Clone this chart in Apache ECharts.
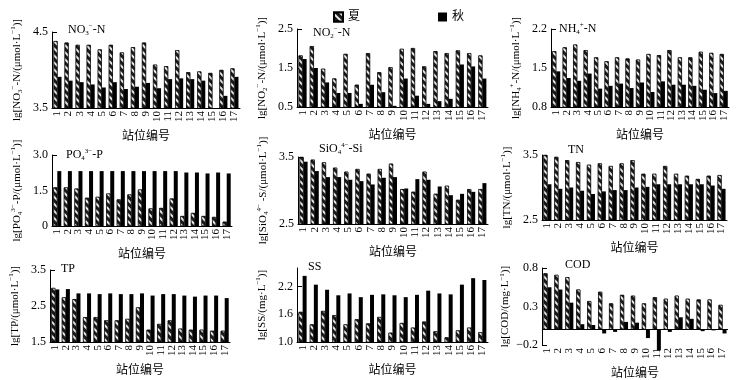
<!DOCTYPE html>
<html>
<head>
<meta charset="utf-8">
<script src="https://cdn.jsdelivr.net/npm/echarts@6/dist/echarts.min.js"></script>
<style>
  html, body { margin: 0; padding: 0; background: #fff; }
  #chart { width: 740px; height: 380px; }
</style>
</head>
<body>
<div id="chart"></div>
<script>
const stations = ['1', '2', '3', '4', '5', '6', '7', '8', '9', '10', '11', '12', '13', '14', '15', '16', '17']

const no3Summer = [4.38, 4.36, 4.33, 4.33, 4.27, 4.33, 4.23, 4.30, 4.36, 4.07, 4.05, 4.26, 3.97, 3.98, 3.96, 4.00, 4.02]
const no3Autumn = [3.91, 3.86, 3.84, 3.81, 3.77, 3.84, 3.75, 3.78, 3.83, 3.76, 3.88, 3.89, 3.88, 3.86, 3.50, 3.66, 3.91]
const no2Summer = [1.82, 2.06, 1.48, 1.23, 1.86, 1.07, 1.88, 1.39, 1.52, 1.99, 2.01, 1.54, 1.93, 1.88, 1.95, 1.88, 1.82]
const no2Autumn = [1.73, 1.50, 1.13, 0.86, 0.86, 0.58, 1.07, 0.88, 0.53, 1.23, 0.79, 0.58, 0.65, 0.71, 1.59, 1.54, 1.23]
const nh4Summer = [1.80, 1.87, 1.92, 1.82, 1.69, 1.62, 1.69, 1.67, 1.65, 1.75, 1.73, 1.82, 1.69, 1.69, 1.79, 1.77, 1.75]
const nh4Autumn = [1.44, 1.32, 1.27, 1.40, 1.13, 1.18, 1.22, 1.14, 1.24, 1.07, 1.26, 1.20, 1.20, 1.18, 1.11, 1.05, 1.09]
const po4Summer = [1.63, 1.63, 1.58, 1.19, 1.23, 1.37, 1.12, 1.33, 1.54, 0.74, 0.76, 1.16, 0.42, 0.55, 0.42, 0.38, 0.18]
const po4Autumn = [2.32, 2.32, 2.32, 2.32, 2.32, 2.32, 2.32, 2.32, 2.32, 2.32, 2.32, 2.32, 2.26, 2.26, 2.22, 2.26, 2.22]
const sioSummer = [3.50, 3.46, 3.42, 3.34, 3.28, 3.32, 3.25, 3.32, 3.40, 3.02, 2.98, 3.28, 2.95, 3.07, 2.86, 3.02, 3.02]
const sioAutumn = [3.43, 3.29, 3.20, 3.20, 3.16, 3.14, 3.09, 3.19, 3.20, 3.03, 3.17, 3.16, 3.06, 2.93, 2.95, 2.98, 3.11]
const tnSummer = [3.50, 3.47, 3.42, 3.39, 3.35, 3.37, 3.33, 3.37, 3.42, 3.21, 3.21, 3.33, 3.21, 3.18, 3.13, 3.18, 3.19]
const tnAutumn = [3.05, 2.98, 3.00, 2.95, 2.90, 2.94, 2.96, 2.96, 3.00, 3.01, 3.05, 3.05, 3.05, 3.05, 3.05, 3.03, 2.98]
const tpSummer = [3.00, 2.74, 2.69, 2.19, 2.19, 2.10, 2.10, 2.14, 2.46, 1.84, 2.00, 2.10, 1.87, 1.84, 1.84, 1.81, 1.81]
const tpAutumn = [2.96, 2.97, 2.85, 2.85, 2.83, 2.85, 2.83, 2.83, 2.85, 2.79, 2.83, 2.83, 2.79, 2.76, 2.79, 2.79, 2.72]
const ssSummer = [1.65, 1.38, 1.67, 1.58, 1.38, 1.49, 1.40, 1.54, 1.20, 1.41, 1.31, 1.44, 1.23, 1.10, 1.25, 1.31, 1.21]
const ssAutumn = [2.43, 2.24, 2.13, 2.01, 2.05, 1.97, 2.02, 2.03, 2.01, 1.97, 2.02, 2.11, 2.05, 2.03, 2.24, 2.38, 2.34]
const codSummer = [0.73, 0.71, 0.68, 0.52, 0.37, 0.49, 0.34, 0.45, 0.44, 0.34, 0.42, 0.40, 0.44, 0.40, 0.39, 0.39, 0.32]
const codAutumn = [0.55, 0.52, 0.35, 0.07, 0.06, -0.05, -0.03, 0.10, 0.09, -0.11, -0.27, -0.03, 0.16, 0.14, -0.02, -0.01, -0.05]

// y tick labels per panel
const no3Ticks = [3.5, 4.5]
const no2Ticks = [0.5, 1.5, 2.5]
const nh4Ticks = [0.8, 1.5, 2.2]
const po4Ticks = [0, 1.5, 3.0]
const sioTicks = [2.5, 3.5]
const tnTicks = [2.5, 3.5]
const tpTicks = [1.5, 2.5, 3.5]
const ssTicks = [1.0, 1.6, 2.2]
const codTicks = [-0.2, 0.3, 0.8]

const FONT = '"Liberation Serif", "Times New Roman", "Noto Sans CJK SC", serif'

const rich = {
  s: { fontSize: 7, lineHeight: 8, verticalAlign: 'top', fontFamily: FONT, color: '#000' },
  b: { fontSize: 7, lineHeight: 8, verticalAlign: 'bottom', fontFamily: FONT, color: '#000' },
}

const panels = [
  { grid: [52, 32, 188, 76], min: 3.5, max: 4.5, ticks: no3Ticks, summer: no3Summer, autumn: no3Autumn,
    name: 'lg[NO{b|3}{s|−}-N/(μmol·L{s|−1})]', title: 'NO{b|3}{s|−}-N', tpos: [68, 23] },
  { grid: [297, 29, 191, 78], min: 0.5, max: 2.5, ticks: no2Ticks, summer: no2Summer, autumn: no2Autumn,
    name: 'lg[NO{b|2}{s|−}-N/(μmol·L{s|−1})]', title: 'NO{b|2}{s|−}-N', tpos: [313, 26] },
  { grid: [551, 29, 178, 78], min: 0.8, max: 2.2, ticks: nh4Ticks, summer: nh4Summer, autumn: nh4Autumn,
    name: 'lg[NH{b|4}{s|+}-N/(μmol·L{s|−1})]', title: 'NH{b|4}{s|+}-N', tpos: [559, 22] },
  { grid: [52, 155, 180, 71], min: 0, max: 3, ticks: po4Ticks, summer: po4Summer, autumn: po4Autumn,
    name: 'lg[PO{b|4}{s|3−}-P/(μmol·L{s|−1})]', title: 'PO{b|4}{s|3−}-P', tpos: [66, 148] },
  { grid: [298, 157, 190, 67], min: 2.5, max: 3.5, ticks: sioTicks, summer: sioSummer, autumn: sioAutumn,
    name: 'lg[SiO{b|4}{s|4−} -S/(μmol·L{s|−1})]', title: 'SiO{b|4}{s|4−}-Si', tpos: [319, 142] },
  { grid: [542, 155, 185, 65], min: 2.5, max: 3.5, ticks: tnTicks, summer: tnSummer, autumn: tnAutumn,
    name: 'lg[TN/(μmol·L{s|−1})]', title: 'TN', tpos: [568, 143] },
  { grid: [50, 270, 180, 72], min: 1.5, max: 3.5, ticks: tpTicks, summer: tpSummer, autumn: tpAutumn,
    name: 'lg[TP/(μmol·L{s|−1})]', title: 'TP', tpos: [61, 262] },
  { grid: [297, 268, 191, 74], min: 1.0, max: 2.6, ticks: ssTicks, summer: ssSummer, autumn: ssAutumn,
    name: 'lg[SS/(mg·L{s|−1})]', title: 'SS', tpos: [308, 260] },
  { grid: [542, 268, 186, 77], min: -0.2, max: 0.8, ticks: codTicks, summer: codSummer, autumn: codAutumn,
    name: 'lg[COD/(mg·L{s|−1})]', title: 'COD', tpos: [565, 258], zeroLine: true },
]

const fmt = (v) => {
  if (v === 0) return '0'
  return v.toFixed(1).replace('-', '−')
}

const summerStyle = {
  color: '#1c1c1c',
  borderColor: '#000',
  borderWidth: 0.6,
  decal: {
    symbol: 'rect',
    symbolSize: 1,
    color: 'rgba(255,255,255,0.9)',
    dashArrayX: [1, 0],
    dashArrayY: [1.4, 2.6],
    rotation: Math.PI / 4,
  },
}

const grids = [], xAxes = [], yAxes = [], titles = [], series = []

panels.forEach((p, i) => {
  grids.push({
    left: p.grid[0], top: p.grid[1], width: p.grid[2], height: p.grid[3],
    containLabel: false, outerBoundsMode: 'none',
  })
  xAxes.push({
    type: 'category',
    gridIndex: i,
    data: stations,
    name: '站位编号',
    nameLocation: 'middle',
    nameGap: 23,
    nameTextStyle: { fontSize: 12, fontFamily: FONT, color: '#000' },
    axisLine: { show: !p.zeroLine, onZero: false, lineStyle: { color: '#000', width: 1 } },
    axisTick: { show: false },
    axisLabel: { rotate: 90, interval: 0, margin: 3, fontSize: 11, fontFamily: FONT, color: '#000' },
    splitLine: { show: false },
  })
  yAxes.push({
    type: 'value',
    gridIndex: i,
    min: p.min,
    max: p.max,
    name: p.name,
    nameLocation: 'middle',
    nameRotate: 90,
    nameGap: 28,
    nameTextStyle: { fontSize: 11, lineHeight: 14, fontFamily: FONT, color: '#000', rich },
    axisLine: { show: true, lineStyle: { color: '#000', width: 1 } },
    axisTick: { show: true, inside: true, length: 5, customValues: p.ticks, lineStyle: { color: '#000' } },
    axisLabel: { customValues: p.ticks, formatter: fmt, margin: 4, fontSize: 12, fontFamily: FONT, color: '#000' },
    splitLine: { show: false },
  })
  titles.push({
    text: p.title,
    left: p.tpos[0],
    top: p.tpos[1],
    padding: 0,
    textStyle: { fontSize: 12, lineHeight: 14, fontWeight: 'normal', fontFamily: FONT, color: '#000', rich },
  })
  series.push({
    name: '夏',
    type: 'bar',
    xAxisIndex: i,
    yAxisIndex: i,
    data: p.summer,
    barWidth: 4,
    barGap: '0%',
    itemStyle: summerStyle,
    clip: !p.zeroLine,
    silent: true,
  })
  const autumn = {
    name: '秋',
    type: 'bar',
    xAxisIndex: i,
    yAxisIndex: i,
    data: p.autumn,
    barWidth: 4,
    barGap: '0%',
    itemStyle: { color: '#000' },
    clip: !p.zeroLine,
    silent: true,
  }
  if (p.zeroLine) {
    autumn.markLine = {
      silent: true,
      symbol: 'none',
      label: { show: false },
      lineStyle: { color: '#000', type: 'solid', width: 1 },
      data: [{ yAxis: 0 }],
    }
  }
  series.push(autumn)
})

const chart = echarts.init(document.getElementById('chart'), null, { renderer: 'canvas' })
chart.setOption({
  backgroundColor: '#fff',
  animation: false,
  title: titles,
  legend: {
    data: ['夏', '秋'],
    left: 328,
    top: 6,
    itemWidth: 9,
    itemHeight: 9,
    itemGap: 78,
    icon: 'rect',
    textStyle: { fontSize: 12, fontFamily: FONT, color: '#000' },
  },
  grid: grids,
  xAxis: xAxes,
  yAxis: yAxes,
  series,
})
</script>
</body>
</html>
